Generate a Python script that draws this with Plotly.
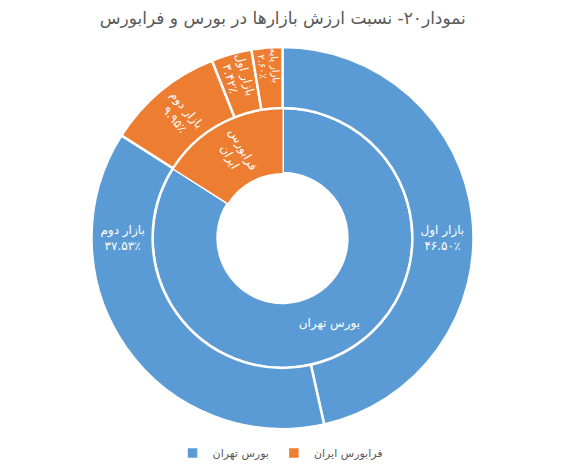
import plotly.graph_objects as go

# داده‌ها
groups = ["بورس تهران", "فرابورس ایران"]
group_colors = ["#5B9BD5", "#ED7D31"]

markets = ["بازار اول", "بازار دوم", "بازار دوم", "بازار اول", "بازار پایه"]
market_group = [0, 0, 1, 1, 1]
market_share = [46.50, 37.53, 9.95, 3.42, 2.60]

title_text = "نمودار۲۰- نسبت ارزش بازارها در بورس و فرابورس"

FA_DIGITS = str.maketrans("0123456789", "۰۱۲۳۴۵۶۷۸۹")


def fa_pct(v):
    return f"{v:.2f}".translate(FA_DIGITS) + "٪"


group_totals = [sum(v for v, g in zip(market_share, market_group) if g == i)
                for i in range(len(groups))]

inner_domain = dict(x=[0.16, 0.84], y=[0.16, 0.84])
common = dict(sort=False, direction="clockwise", rotation=0,
              textinfo="text", textposition="inside")

fig = go.Figure()

# حلقه داخلی (برچسب بورس تهران)
fig.add_trace(go.Pie(
    labels=groups,
    values=group_totals,
    text=["بورس تهران", ""],
    insidetextorientation="auto",
    hole=0.5,
    domain=inner_domain,
    marker=dict(colors=group_colors, line=dict(color="white", width=2.5)),
    textfont=dict(color="white", size=12),
    hoverinfo="label+percent",
    showlegend=True,
    **common,
))

# همان حلقه، فقط برچسب فرابورس به صورت شعاعی
fig.add_trace(go.Pie(
    labels=groups,
    values=group_totals,
    text=["", "فرابورس<br>ایران"],
    insidetextorientation="radial",
    hole=0.5,
    domain=inner_domain,
    marker=dict(colors=["rgba(0,0,0,0)", group_colors[1]],
                line=dict(color="rgba(0,0,0,0)", width=0)),
    textfont=dict(color="white", size=12),
    hoverinfo="skip",
    showlegend=False,
    **common,
))

# حلقه بیرونی
fig.add_trace(go.Pie(
    labels=[f"{m} - {groups[g]}" for m, g in zip(markets, market_group)],
    values=market_share,
    text=[f"{m}<br>{fa_pct(v)}" for m, v in zip(markets, market_share)],
    insidetextorientation="radial",
    hole=0.68,
    domain=dict(x=[0, 1], y=[0, 1]),
    marker=dict(colors=[group_colors[g] for g in market_group],
                line=dict(color="white", width=2.5)),
    textfont=dict(color="white", size=12),
    hoverinfo="label+value",
    showlegend=False,
    **common,
))

fig.update_layout(
    width=563,
    height=472,
    margin=dict(l=80, r=94, t=39, b=44),
    paper_bgcolor="white",
    font=dict(family="DejaVu Sans", color="#595959"),
    title=dict(text=title_text, x=0.488, xanchor="center",
               y=0.979, yanchor="middle",
               font=dict(size=17, color="#595959")),
    legend=dict(orientation="h", x=0.495, xanchor="center", y=-0.025,
                yanchor="top", traceorder="normal", itemwidth=30,
                font=dict(size=11, color="#595959")),
)

fig.write_html("out.html")
